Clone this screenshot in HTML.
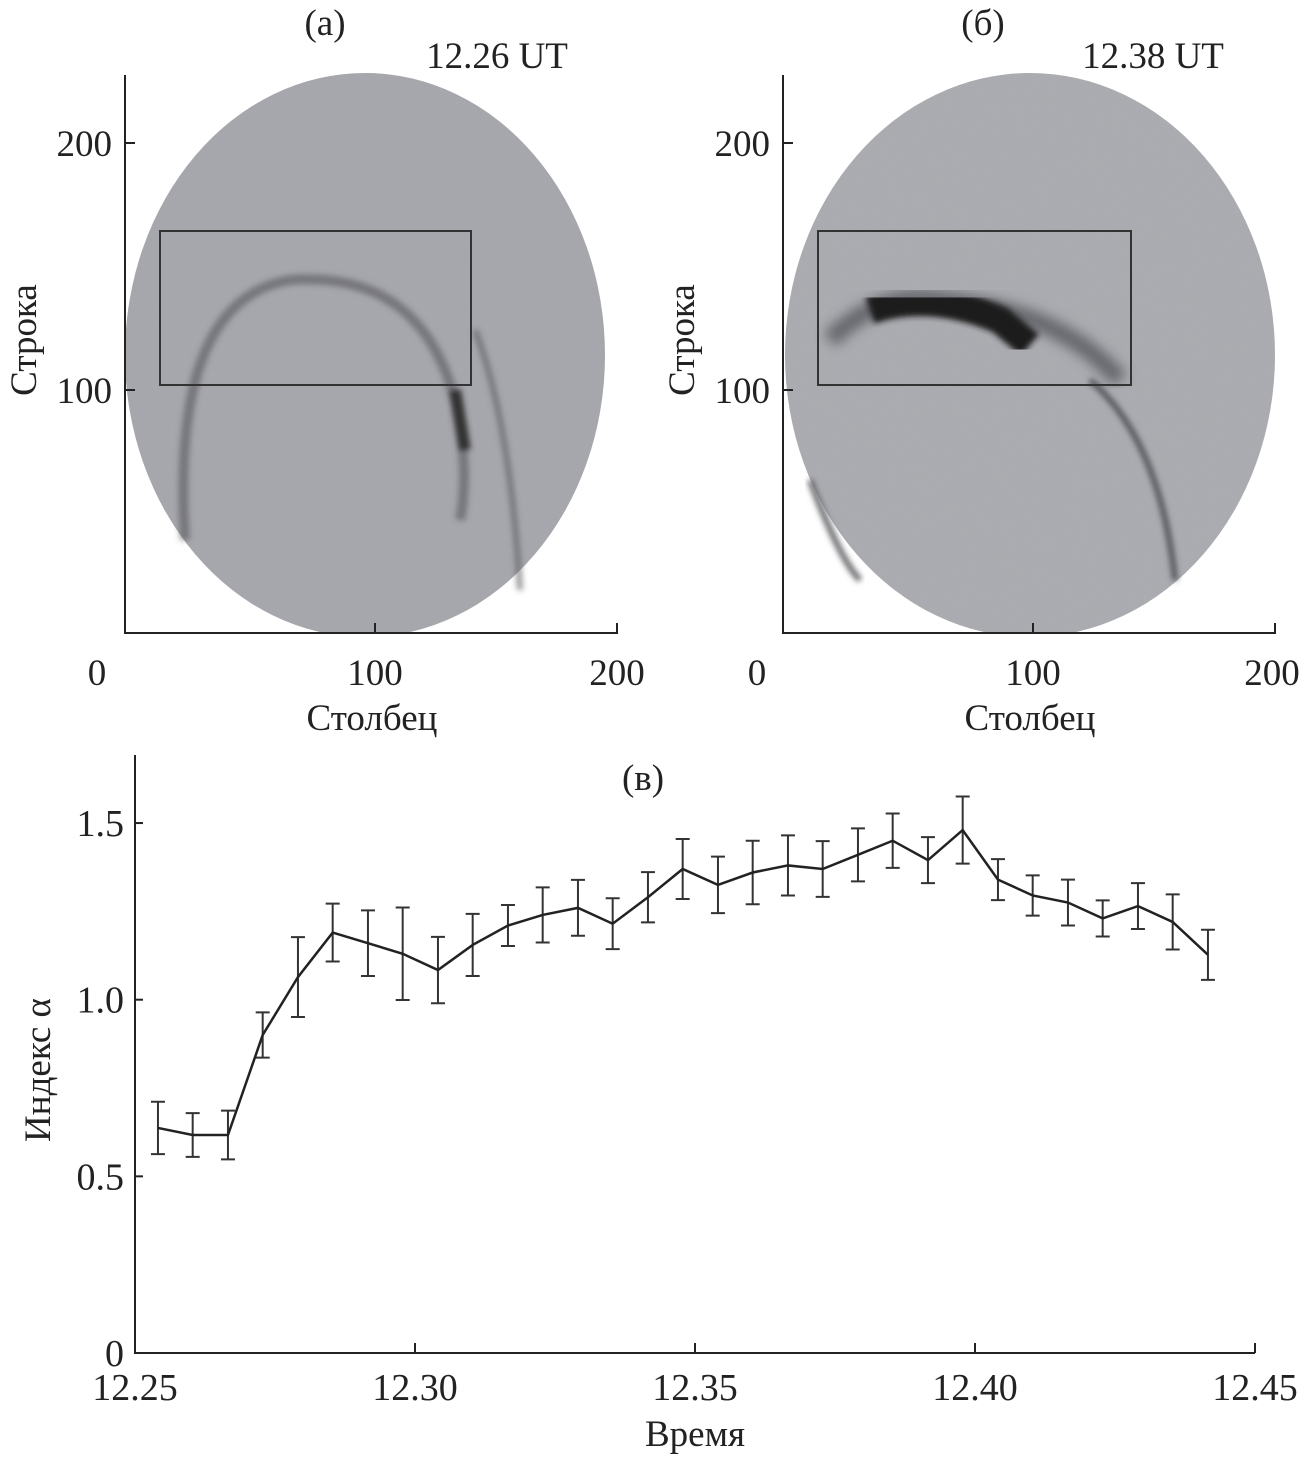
<!DOCTYPE html>
<html><head><meta charset="utf-8"><style>
body{margin:0;background:#fff}
svg{display:block}
text{font-family:"Liberation Serif",serif;fill:#222}
</style></head><body>
<svg width="1307" height="1457" viewBox="0 0 1307 1457">
<defs>
<filter id="noise"><feTurbulence type="fractalNoise" baseFrequency="0.9" numOctaves="2" result="n"/><feColorMatrix type="matrix" values="0 0 0 0 0.5 0 0 0 0 0.5 0 0 0 0 0.52 0 0 0 0.25 0"/><feComposite in2="SourceGraphic" operator="in"/></filter>
<filter id="blur"><feGaussianBlur stdDeviation="6"/></filter>
<filter id="blur2"><feGaussianBlur stdDeviation="3"/></filter>
</defs>

<g>
<text x="325" y="35" font-size="37" text-anchor="middle">(а)</text>
<text x="497" y="68" font-size="37" text-anchor="middle">12.26 UT</text>
<ellipse cx="365" cy="355" rx="240" ry="282" fill="#a3a4aa"/>
<ellipse cx="365" cy="355" rx="240" ry="282" fill="#999" filter="url(#noise)"/>
<g filter="url(#blur2)" fill="none" stroke="#55565c">
<path d="M185 540 Q170 300 290 280 Q420 270 455 400 Q470 470 460 520" stroke-width="10" opacity="0.6"/>
<path d="M455 390 L465 450" stroke="#333" stroke-width="12"/>
<path d="M475 330 Q510 420 520 590" stroke-width="6" opacity="0.6"/>
</g>
<rect x="160" y="231" width="311" height="154" fill="none" stroke="#333" stroke-width="2"/>
<rect x="0" y="633" width="640" height="10" fill="#fff"/>
<path d="M125 75 V633 H617 V623 M375 633 V623 M125 390 H135 M125 143 H135" fill="none" stroke="#222" stroke-width="2"/>
<text x="97" y="685" font-size="37" text-anchor="middle">0</text>
<text x="375" y="685" font-size="37" text-anchor="middle">100</text>
<text x="617" y="685" font-size="37" text-anchor="middle">200</text>
<text x="112" y="156" font-size="37" text-anchor="end">200</text>
<text x="112" y="403" font-size="37" text-anchor="end">100</text>
<text x="372" y="730" font-size="37" text-anchor="middle">Столбец</text>
<text transform="translate(36,340) rotate(-90)" font-size="37" text-anchor="middle">Строка</text>
</g>

<g>
<text x="983" y="35" font-size="37" text-anchor="middle">(б)</text>
<text x="1153" y="68" font-size="37" text-anchor="middle">12.38 UT</text>
<ellipse cx="1030" cy="355" rx="245" ry="282" fill="#a8a9ae"/>
<ellipse cx="1030" cy="355" rx="245" ry="282" fill="#999" filter="url(#noise)"/>
<g fill="none">
<path d="M830 340 Q880 290 940 300 Q1060 310 1120 380" stroke="#55565c" stroke-width="18" filter="url(#blur)" opacity="0.8"/>
<path d="M870 310 Q930 290 1000 320 L1030 345" stroke="#1a1a1e" stroke-width="28" filter="url(#blur2)"/>
<path d="M1090 380 Q1160 440 1175 580" stroke="#55565c" stroke-width="6" filter="url(#blur2)"/>
<path d="M810 480 Q840 560 860 580" stroke="#66676c" stroke-width="6" filter="url(#blur2)"/>
</g>
<rect x="818" y="231" width="313" height="154" fill="none" stroke="#333" stroke-width="2"/>
<rect x="650" y="633" width="657" height="10" fill="#fff"/>
<path d="M783 75 V633 H1275 V623 M1033 633 V623 M783 390 H793 M783 143 H793" fill="none" stroke="#222" stroke-width="2"/>
<text x="757" y="685" font-size="37" text-anchor="middle">0</text>
<text x="1033" y="685" font-size="37" text-anchor="middle">100</text>
<text x="1272" y="685" font-size="37" text-anchor="middle">200</text>
<text x="770" y="156" font-size="37" text-anchor="end">200</text>
<text x="770" y="403" font-size="37" text-anchor="end">100</text>
<text x="1030" y="730" font-size="37" text-anchor="middle">Столбец</text>
<text transform="translate(694,340) rotate(-90)" font-size="37" text-anchor="middle">Строка</text>
</g>

<g id="chart">
<text x="643" y="790" font-size="37" text-anchor="middle">(в)</text>
<text x="695" y="1446" font-size="37" text-anchor="middle">Время</text>
<text transform="translate(50,1070) rotate(-90)" font-size="37" text-anchor="middle">Индекс α</text>
</g>
</svg>
<script>
const times=[12.2541,12.2603,12.2666,12.2728,12.2791,12.2853,12.2916,12.2978,12.3041,12.3103,12.3166,12.3228,12.3291,12.3353,12.3416,12.3478,12.3541,12.3603,12.3666,12.3728,12.3791,12.3853,12.3916,12.3978,12.4041,12.4103,12.4166,12.4228,12.4291,12.4353,12.4416];
const alpha=[0.637,0.617,0.617,0.90,1.064,1.19,1.16,1.13,1.084,1.155,1.21,1.24,1.26,1.215,1.29,1.37,1.325,1.36,1.38,1.37,1.41,1.45,1.395,1.48,1.34,1.295,1.275,1.23,1.265,1.22,1.127];
const errs=[0.074,0.062,0.069,0.064,0.113,0.082,0.093,0.131,0.094,0.088,0.058,0.078,0.079,0.072,0.071,0.085,0.08,0.09,0.085,0.079,0.075,0.077,0.065,0.095,0.058,0.057,0.065,0.051,0.065,0.078,0.071];
const xTicks=[12.25,12.30,12.35,12.40,12.45];
const xTickLabels=["12.25","12.30","12.35","12.40","12.45"];
const yTicks=[0,0.5,1.0,1.5];
const yTickLabels=["0","0.5","1.0","1.5"];
const NS="http://www.w3.org/2000/svg";
const g=document.getElementById('chart');
const X=t=>135+(t-12.25)/0.2*1120;
const Y=v=>1353-v*353.3;
function mk(tag,attrs){const e=document.createElementNS(NS,tag);for(const k in attrs)e.setAttribute(k,attrs[k]);g.appendChild(e);return e;}
const ax=mk('path',{d:'M135 755 V1353 H1255',fill:'none',stroke:'#222','stroke-width':2});


xTicks.forEach((t,i)=>{
  const l=mk('line',{x1:X(t),x2:X(t),y1:1353,y2:1343,stroke:'#222','stroke-width':2});
  
  
  const tx=mk('text',{x:X(t),y:1400,'font-size':38,'text-anchor':'middle'});
  tx.textContent=xTickLabels[i];
  
  
});
yTicks.forEach((v,i)=>{
  const l=mk('line',{x1:135,x2:143,y1:Y(v),y2:Y(v),stroke:'#222','stroke-width':2});
  
  
  const tx=mk('text',{x:124,y:Y(v)+13,'font-size':38,'text-anchor':'end'});
  tx.textContent=yTickLabels[i];
  
  
});
times.forEach((t,i)=>{
  const x=X(t),y1=Y(alpha[i]+errs[i]),y2=Y(alpha[i]-errs[i]);
  const e=mk('path',{d:`M${x} ${y1} V${y2} M${x-7} ${y1} H${x+7} M${x-7} ${y2} H${x+7}`,fill:'none',stroke:'#333','stroke-width':2});
  
  
});
const line=mk('polyline',{points:times.map((t,i)=>X(t)+','+Y(alpha[i])).join(' '),fill:'none',stroke:'#222','stroke-width':2.5});


</script>
</body></html>
